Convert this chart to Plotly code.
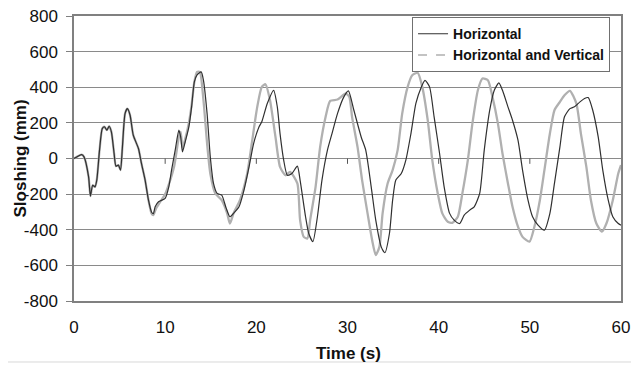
import plotly.graph_objects as go

# Horizontal (dark line)
t_h = [0, 0.84, 1.1, 1.6, 1.8, 2.05, 2.3, 2.5, 2.8, 3.1, 3.35, 3.6, 3.85, 4.1, 4.4, 4.6, 4.87, 5.1, 5.3, 5.6, 5.86, 6.15, 6.5, 7.07, 7.4, 7.8, 8.17, 8.5, 8.7,
       8.9, 9.27, 10.0, 10.4, 10.7, 11.1, 11.5, 11.7, 11.9, 12.2, 12.6, 12.9, 13.2, 13.5, 13.95, 14.2, 14.6, 14.95, 15.3, 15.7, 16.2, 16.7, 17.1, 17.5,
       18.1, 18.6, 19.2, 19.7, 20.3, 20.6, 21.2, 21.9, 22.3, 22.6, 23.0, 23.4, 23.9, 24.5, 24.8, 25.4, 25.75, 26.2, 26.7, 27.2, 27.8, 28.3, 28.9, 29.6,
       30.1, 30.7, 31.5, 32.0, 32.6, 33.1, 33.7, 34.1, 34.6, 34.95, 35.3, 35.9, 36.4, 36.96, 37.5, 38.1, 38.5, 39.0, 39.5, 40.1, 40.6, 41.2, 41.7, 42.3,
       42.8, 43.4, 43.9, 44.5, 45.0, 45.6, 46.1, 46.6, 47.0, 47.6, 48.1, 48.7, 49.2, 49.8, 50.3, 50.9, 51.6, 52.2, 52.7, 53.3, 53.8, 54.4, 54.9, 55.5,
       56.0, 56.4, 56.9, 57.5, 58.0, 58.6, 59.1, 59.7, 60.0]
v_h = [0, 22, 9, -103, -211, -150, -159, -121, 47, 168, 178, 159, 181, 150, 28, -43, -37, -65, 56, 252, 280, 243, 131, 56, -28, -121, -234, -300, -310,
       -271, -243, -224, -159, -65, 47, 159, 121, 37, 94, 178, 290, 430, 470, 486, 439, 252, 9, -140, -196, -206, -280, -327, -308,
       -271, -187, -47, 84, 178, 206, 309, 383, 290, 140, -9, -94, -84, -43, -121, -327, -421, -467, -327, -121, 47, 140, 252, 346,
       380, 271, 121, 47, -159, -346, -496, -529, -421, -234, -121, -84, -9, 140, 309, 402, 439, 402, 234, 28, -159, -308, -346, -365,
       -318, -290, -271, -196, 47, 271, 383, 424, 383, 290, 215, 103, -65, -234, -327, -374, -402, -308, -140, 65, 234, 280, 290, 318,
       337, 342, 271, 121, -65, -234, -327, -365, -374]

# Horizontal and Vertical (light grey line)
t_hv = [0, 0.84, 1.1, 1.6, 1.8, 2.05, 2.3, 2.5, 2.8, 3.1, 3.35, 3.6, 3.85, 4.1, 4.4, 4.6, 4.87, 5.1, 5.3, 5.6, 5.86, 6.15, 6.5, 7.07, 7.4, 7.8, 8.17, 8.5, 8.7,
        9.0, 9.5, 10.0, 10.5, 11.0, 11.5, 11.7, 11.9, 12.2, 12.6, 12.9, 13.2, 13.5, 13.8, 14.2, 14.6, 14.95, 15.5, 16.2, 16.8, 17.1, 17.5, 18.2, 19.0,
        19.5, 20.1, 20.6, 21.0, 21.5, 22.1, 22.6, 23.2, 23.7, 24.5, 24.8, 25.2, 25.6, 25.9, 26.5, 27.0, 27.6, 28.1, 28.9, 29.8, 30.2, 30.5, 31.1, 31.6,
        32.2, 32.7, 33.1, 33.5, 33.85, 34.4, 34.95, 35.5, 36.0, 36.6, 37.1, 37.7, 38.2, 38.8, 39.3, 39.9, 40.4, 41.0, 41.5, 42.1, 42.6, 43.2, 43.7,
        44.3, 44.8, 45.4, 45.9, 46.5, 47.0, 47.6, 48.1, 48.7, 49.2, 49.96, 50.5, 51.1, 51.6, 52.2, 52.7, 53.3, 53.8, 54.4, 55.1, 55.6, 56.2, 56.7,
        57.3, 57.9, 58.4, 59.1, 59.7, 60.0]
v_hv = [0, 22, 9, -103, -211, -150, -159, -121, 47, 168, 178, 159, 181, 150, 28, -43, -37, -65, 56, 252, 280, 243, 131, 56, -28, -121, -234, -308, -318,
        -280, -240, -200, -130, -40, 120, 150, 60, 110, 200, 300, 430, 486, 486, 327, 84, -84, -196, -234, -308, -365, -308, -234, -84,
        84, 290, 402, 417, 327, 121, -47, -94, -75, -140, -346, -440, -449, -346, -159, 65, 234, 323, 331, 365, 346, 234, 65, -121,
        -308, -458, -542, -496, -308, -140, -65, 47, 252, 402, 467, 481, 402, 215, -9, -196, -308, -355, -361, -327, -196, -9, 196,
        383, 449, 439, 346, 196, 28, -140, -271, -383, -440, -467, -383, -234, -65, 140, 271, 318, 355, 380, 309, 140, -47, -234,
        -365, -411, -365, -234, -84, -37]

x_ticks = [0, 10, 20, 30, 40, 50, 60]
x_tick_text = ["0", "10", "20", "30", "40", "50", "60"]
y_ticks = [-800, -600, -400, -200, 0, 200, 400, 600, 800]
y_tick_text = ["-800", "-600", "-400", "-200", "0", "200", "400", "600", "800"]

FONT = "Liberation Sans, Arial, sans-serif"

fig = go.Figure()
fig.add_trace(go.Scatter(x=t_hv, y=v_hv, mode="lines", name="Horizontal and Vertical",
                         line=dict(color="#b0b0b0", width=2.3, shape="spline", smoothing=0.6),
                         showlegend=False))
fig.add_trace(go.Scatter(x=t_h, y=v_h, mode="lines", name="Horizontal",
                         line=dict(color="#303030", width=1.2, shape="spline", smoothing=0.6)))
# legend-only entry with dashed symbol
fig.add_trace(go.Scatter(x=[None], y=[None], mode="lines", name="Horizontal and Vertical",
                         line=dict(color="#b0b0b0", width=1.5, dash="dash")))

# small tick marks on the zero line (category axis crossing)
for xt in x_ticks[1:-1]:
    fig.add_shape(type="line", xref="x", yref="y", x0=xt, x1=xt, y0=0, y1=-30,
                  line=dict(color="#555555", width=1))

# faint outer frame of the original figure (left and bottom edges)
fig.add_shape(type="line", xref="paper", yref="paper", x0=-0.1316, x1=-0.1316, y0=-0.214, y1=1.06,
              line=dict(color="#d8d8d8", width=1))
fig.add_shape(type="line", xref="paper", yref="paper", x0=-0.1316, x1=1.03, y0=-0.214, y1=-0.214,
              line=dict(color="#d8d8d8", width=1))

# axis titles as annotations for exact placement
fig.add_annotation(text="<b>Time (s)</b>", xref="paper", yref="paper", x=0.501, y=-0.1825,
                   xanchor="center", yanchor="middle", showarrow=False,
                   font=dict(size=17, family=FONT, color="#111111"))
fig.add_annotation(text="<b>Sloshing (mm)</b>", xref="paper", yref="paper", x=-0.0969, y=0.5,
                   xanchor="center", yanchor="middle", showarrow=False, textangle=-90,
                   font=dict(size=17, family=FONT, color="#111111"))

# page body has an 8px margin: shift figure so plot area lands at x 74..621, y 16..301
fig.update_layout(
    width=631, height=359,
    margin=dict(l=66, r=18, t=8, b=66),
    paper_bgcolor="white", plot_bgcolor="white",
    font=dict(family=FONT, size=17, color="#111111"),
    legend=dict(x=0.618, y=0.996, xanchor="left", yanchor="top",
                bgcolor="white", bordercolor="#707070", borderwidth=1,
                font=dict(size=14, family=FONT, weight="bold"),
                tracegroupgap=0, itemwidth=30),
)
fig.update_xaxes(range=[0, 60], tickvals=x_ticks, ticktext=x_tick_text, ticks="", showgrid=False, zeroline=False,
                 showline=True, mirror=True, linecolor="#808080", linewidth=1.5,
                 ticklabelstandoff=10, automargin=False, ticklabeloverflow="allow")
fig.update_yaxes(range=[-800, 800], tickvals=y_ticks, ticktext=y_tick_text, ticks="outside", ticklen=6,
                 tickcolor="#808080",
                 showgrid=True, gridcolor="#8a8a8a", gridwidth=1.2, zeroline=False,
                 showline=True, mirror=True, linecolor="#808080", linewidth=1.5,
                 ticklabelstandoff=5, automargin=False, ticklabeloverflow="allow")

fig.write_html("out.html")
